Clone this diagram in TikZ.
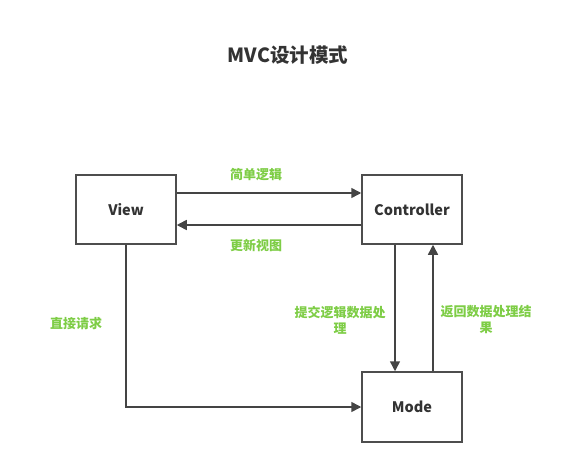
\documentclass[tikz,border=0pt]{standalone}
\usepackage{fontspec}
\setmainfont{Noto Sans CJK SC}
\usepackage{tikz}
\usetikzlibrary{arrows.meta,positioning}
\definecolor{mvcgray}{RGB}{77,77,77}
\definecolor{mvcline}{RGB}{68,68,68}
\definecolor{mvcgreen}{RGB}{126,205,70}
\definecolor{mvctitle}{RGB}{51,51,51}
\tikzset{
  mvcbox/.style={rectangle,draw=mvcgray,line width=1.5pt,minimum width=100pt,minimum height=69pt,fill=white,font=\bfseries\fontsize{14.5}{16}\selectfont,text=mvctitle},
  mvclabel/.style={text=mvcgreen,font=\bfseries\fontsize{13}{16}\selectfont,align=center,inner sep=1pt},
  mvcarrow/.style={-{Triangle[length=10pt,width=10pt]},line width=1.5pt,draw=mvcline}
}

\begin{document}
\begin{tikzpicture}[x=1pt,y=-1pt]
  \useasboundingbox (0,0) rectangle (561,468);
  \node[font=\bfseries\fontsize{19.5}{22}\selectfont,text=mvctitle] (title) at (288,55) {MVC设计模式};
  \node[mvcbox] (view) at (126,209.5) {View};
  \node[mvcbox] (ctrl) at (412,209.5) {Controller};
  \node[mvcbox,minimum height=70pt] (mode) at (412,407) {Mode};
  \draw[mvcarrow] ([yshift=16.5pt]view.east) -- ([yshift=16.5pt]ctrl.west);
  \draw[mvcarrow] ([yshift=-15.5pt]ctrl.west) -- ([yshift=-15.5pt]view.east);
  \draw[mvcarrow] (view.south) |- (mode.west);
  \draw[mvcarrow] ([xshift=-17pt]ctrl.south) -- ([xshift=-17pt]mode.north);
  \draw[mvcarrow] ([xshift=21pt]mode.north) -- ([xshift=21pt]ctrl.south);
  \node[mvclabel] (lsimple) at (256,175) {简单逻辑};
  \node[mvclabel] (lupdate) at (256,246) {更新视图};
  \node[mvclabel] (ldirect) at (76,324) {直接请求};
  \node[mvclabel] (lsubmit) at (340,320) {提交逻辑数据处\\理};
  \node[mvclabel] (lreturn) at (486,320) {返回数据处理结\\果};
\end{tikzpicture}
\end{document}
